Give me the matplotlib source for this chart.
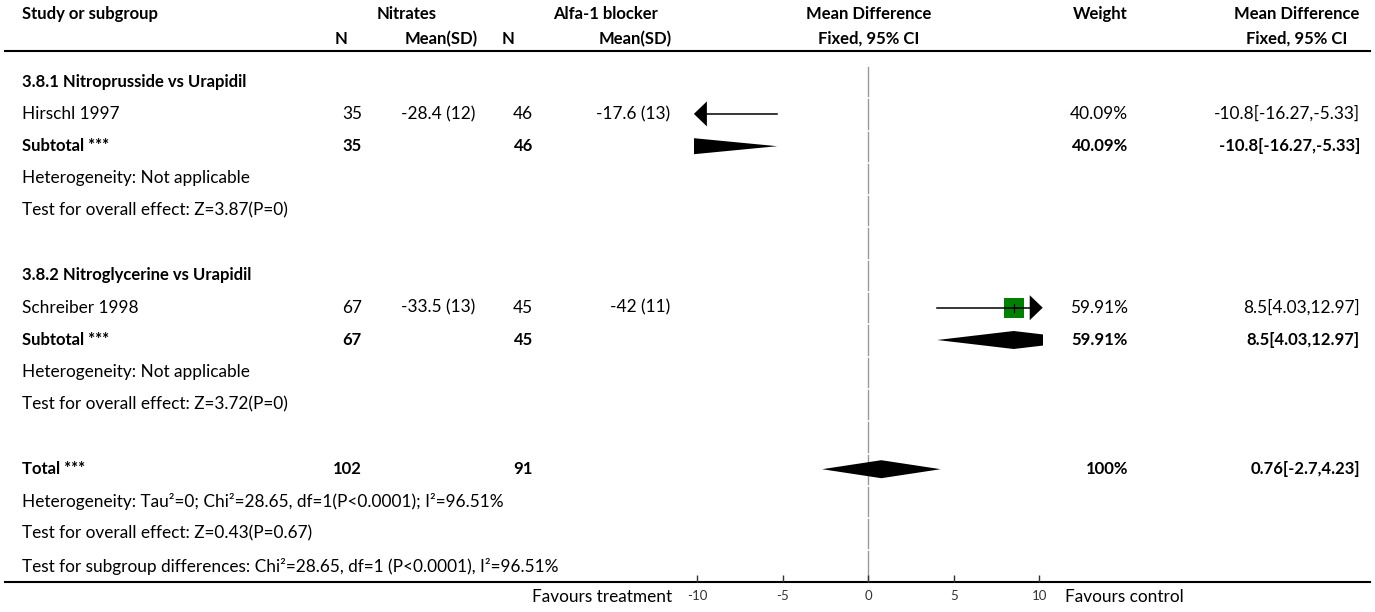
import matplotlib.pyplot as plt
from matplotlib.patches import Polygon, Rectangle

plt.rcParams['font.family'] = ['Lato', 'DejaVu Sans']

# --- DATA ---
STUDIES = ["Hirschl 1997", "Schreiber 1998"]
N_NIT = [35, 67]
MEAN_NIT = ["-28.4 (12)", "-33.5 (13)"]
N_ALFA = [46, 45]
MEAN_ALFA = ["-17.6 (13)", "-42 (11)"]
MD = [-10.8, 8.5]
CI_LO = [-16.27, 4.03]
CI_HI = [-5.33, 12.97]
WEIGHT = [40.09, 59.91]

SUBGROUPS = ["3.8.1 Nitroprusside vs Urapidil", "3.8.2 Nitroglycerine vs Urapidil"]
SUB_N_NIT = [35, 67]
SUB_N_ALFA = [46, 45]
SUB_MD = [-10.8, 8.5]
SUB_LO = [-16.27, 4.03]
SUB_HI = [-5.33, 12.97]
SUB_WEIGHT = [40.09, 59.91]
SUB_HET = ["Heterogeneity: Not applicable", "Heterogeneity: Not applicable"]
SUB_TEST = ["Test for overall effect: Z=3.87(P=0)", "Test for overall effect: Z=3.72(P=0)"]

TOTAL_N_NIT = 102
TOTAL_N_ALFA = 91
TOTAL_MD = 0.76
TOTAL_LO = -2.7
TOTAL_HI = 4.23
TOTAL_WEIGHT = 100
TOTAL_NOTES = [
    "Heterogeneity: Tau\u00b2=0; Chi\u00b2=28.65, df=1(P<0.0001); I\u00b2=96.51%",
    "Test for overall effect: Z=0.43(P=0.67)",
    "Test for subgroup differences: Chi\u00b2=28.65, df=1 (P<0.0001), I\u00b2=96.51%",
]

X_TICKS = [-10, -5, 0, 5, 10]
XLIM = (-10.2, 10.2)
LEFT_LABEL = "Favours treatment"
RIGHT_LABEL = "Favours control"

# --- LAYOUT (pixels) ---
W, H = 1375, 612
ROW0, PITCH = 17.0, 32.3          # centre of row 0, row spacing
HEAD_ROWS = [14, 39]              # pixel centres of the two header rows
ZERO_PX, UNIT_PX = 868.3, 17.1    # x=0 position, pixels per unit
HEADER_LINE, BOTTOM_LINE = 51, 582
FS = 12.4
FS_B = 12.0
TXT = '#000000'

X_STUDY = 22
X_N1, X_M1 = 362, 475             # right edges of value columns
X_N2, X_M2 = 533, 670
C_N1, C_M1, C_N2, C_M2 = 341, 441, 508, 635
C_G1, C_G2 = 407, 606
X_W = 1128
C_CI, X_CI = 1297, 1360


def row_of(px):
    return (px - ROW0) / PITCH


fig = plt.figure(figsize=(W / 100, H / 100), dpi=100)
ax = fig.add_axes([0, 0, 1, 1])
ax.set_xlim(0, W)
ax.set_ylim(row_of(H), row_of(0))
ax.axis('off')

left_px = ZERO_PX + XLIM[0] * UNIT_PX
right_px = ZERO_PX + XLIM[1] * UNIT_PX
fa = fig.add_axes([left_px / W, (H - BOTTOM_LINE) / H,
                   (right_px - left_px) / W, (BOTTOM_LINE - HEADER_LINE) / H])
fa.set_xlim(*XLIM)
fa.set_ylim(row_of(BOTTOM_LINE), row_of(HEADER_LINE))
fa.patch.set_alpha(0)
for s in fa.spines.values():
    s.set_visible(False)
fa.set_yticks([])
fa.set_xticks(X_TICKS)
fa.set_xticklabels([str(t) for t in X_TICKS])
fa.tick_params(axis='x', direction='in', length=5, width=1, pad=6,
               labelsize=9.5, labelcolor='#333333', color='#333333')

HEAD_LEN = 13 / UNIT_PX
HEAD_H = 12.5 / PITCH
DIA_H = 9 / PITCH


def txt(x, y, s, ha='left', bold=False, **kw):
    ax.text(x, y, s, ha=ha, va='center', fontsize=FS_B if bold else FS, color=TXT,
            fontweight='bold' if bold else 'normal', **kw)


def study_mark(y, md, lo, hi, w):
    xmin, xmax = XLIM
    x0, x1 = max(lo, xmin), min(hi, xmax)
    if lo < xmin:
        x0 = xmin + HEAD_LEN
        fa.add_patch(Polygon([(xmin, y), (x0, y - HEAD_H), (x0, y + HEAD_H)],
                             closed=True, color='black', lw=0, zorder=4))
    if hi > xmax:
        x1 = xmax - HEAD_LEN
        fa.add_patch(Polygon([(xmax, y), (x1, y - HEAD_H), (x1, y + HEAD_H)],
                             closed=True, color='black', lw=0, zorder=4))
    fa.plot([x0, x1], [y, y], color='black', lw=1.1, zorder=3)
    if xmin < md < xmax:
        side = 26 * (w / 100) ** 0.5
        sw, sh = side / UNIT_PX, side / PITCH
        fa.add_patch(Rectangle((md - sw / 2, y - sh / 2), sw, sh,
                               color='#008000', lw=0, zorder=2))
        fa.plot([md, md], [y - 4 / PITCH, y + 4 / PITCH], color='black', lw=0.8, zorder=3)


def diamond(y, md, lo, hi):
    fa.add_patch(Polygon([(lo, y), (md, y - DIA_H), (hi, y), (md, y + DIA_H)],
                         closed=True, color='black', lw=0, zorder=3))


def fmt_ci(md, lo, hi):
    return f"{md:g}[{lo:g},{hi:g}]"


# headers
h0, h1 = row_of(HEAD_ROWS[0]), row_of(HEAD_ROWS[1])
txt(X_STUDY, h0, "Study or subgroup", bold=True)
txt(C_G1, h0, "Nitrates", ha='center', bold=True)
txt(C_G2, h0, "Alfa-1 blocker", ha='center', bold=True)
txt(ZERO_PX, h0, "Mean Difference", ha='center', bold=True)
txt(X_W, h0, "Weight", ha='right', bold=True)
txt(C_CI, h0, "Mean Difference", ha='center', bold=True)
txt(C_N1, h1, "N", ha='center', bold=True)
txt(C_M1, h1, "Mean(SD)", ha='center', bold=True)
txt(C_N2, h1, "N", ha='center', bold=True)
txt(C_M2, h1, "Mean(SD)", ha='center', bold=True)
txt(ZERO_PX, h1, "Fixed, 95% CI", ha='center', bold=True)
txt(C_CI, h1, "Fixed, 95% CI", ha='center', bold=True)

ax.plot([5, 1370], [row_of(HEADER_LINE)] * 2, color='black', lw=1.5)
ax.plot([5, 1370], [row_of(BOTTOM_LINE)] * 2, color='black', lw=1.5)

row = 2
for i in range(len(SUBGROUPS)):
    txt(X_STUDY, row, SUBGROUPS[i], bold=True)
    row += 1
    txt(X_STUDY, row, STUDIES[i])
    txt(X_N1, row, str(N_NIT[i]), ha='right')
    txt(X_M1, row, MEAN_NIT[i], ha='right')
    txt(X_N2, row, str(N_ALFA[i]), ha='right')
    txt(X_M2, row, MEAN_ALFA[i], ha='right')
    txt(X_W, row, f"{WEIGHT[i]:g}%", ha='right')
    txt(X_CI, row, fmt_ci(MD[i], CI_LO[i], CI_HI[i]), ha='right')
    study_mark(row, MD[i], CI_LO[i], CI_HI[i], WEIGHT[i])
    row += 1
    txt(X_STUDY, row, "Subtotal ***", bold=True)
    txt(X_N1, row, str(SUB_N_NIT[i]), ha='right', bold=True)
    txt(X_N2, row, str(SUB_N_ALFA[i]), ha='right', bold=True)
    txt(X_W, row, f"{SUB_WEIGHT[i]:g}%", ha='right', bold=True)
    txt(X_CI, row, fmt_ci(SUB_MD[i], SUB_LO[i], SUB_HI[i]), ha='right', bold=True)
    diamond(row, SUB_MD[i], SUB_LO[i], SUB_HI[i])
    row += 1
    txt(X_STUDY, row, SUB_HET[i])
    row += 1
    txt(X_STUDY, row, SUB_TEST[i])
    row += 2

txt(X_STUDY, row, "Total ***", bold=True)
txt(X_N1, row, str(TOTAL_N_NIT), ha='right', bold=True)
txt(X_N2, row, str(TOTAL_N_ALFA), ha='right', bold=True)
txt(X_W, row, f"{TOTAL_WEIGHT:g}%", ha='right', bold=True)
txt(X_CI, row, fmt_ci(TOTAL_MD, TOTAL_LO, TOTAL_HI), ha='right', bold=True)
diamond(row, TOTAL_MD, TOTAL_LO, TOTAL_HI)
for note in TOTAL_NOTES:
    row += 1
    txt(X_STUDY, row, note)

# zero line, broken slightly at each row boundary
for r in range(2, row + 1):
    top = r - 0.5 + 1.5 / PITCH
    bot = min(r + 0.5 - 1.5 / PITCH, row_of(BOTTOM_LINE))
    fa.plot([0, 0], [top, bot], color='#9a9a9a', lw=1, zorder=1)

# favours labels
lab_y = row_of(597)
ax.text(left_px - 22, lab_y, LEFT_LABEL, ha='right', va='center', fontsize=FS, color=TXT)
ax.text(right_px + 22, lab_y, RIGHT_LABEL, ha='left', va='center', fontsize=FS, color=TXT)

fig.savefig("out.png", dpi=100)
